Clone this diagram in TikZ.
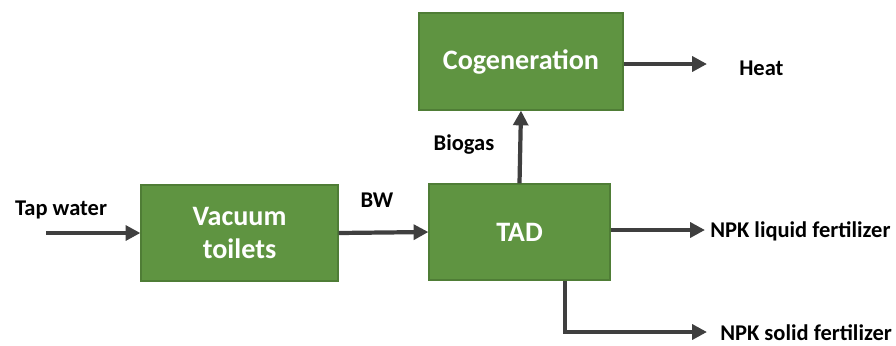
\documentclass[tikz,border=0pt]{standalone}
\usepackage{fontspec}
\setmainfont{Carlito}
\usetikzlibrary{arrows.meta}
\definecolor{boxgreen}{HTML}{5F9441}
\definecolor{boxedge}{HTML}{4F7D36}
\definecolor{flowgrey}{HTML}{3F3F3F}
\tikzset{
  unit/.style={draw=boxedge, line width=0.8pt, fill=boxgreen, text=white,
    font=\bfseries\fontsize{20}{23.5}\selectfont, align=center, inner sep=0pt},
  flow/.style={draw=flowgrey, line width=3pt,
    -{Triangle[length=10.5pt,width=10.5pt,fill=flowgrey]}},
  lbl/.style={font=\bfseries\fontsize{16}{19}\selectfont, inner sep=0pt}
}

\begin{document}
\begin{tikzpicture}[x=0.025cm,y=-0.025cm]
\useasboundingbox (0,0) rectangle (896,345);

% Process units
\node[unit, minimum width=4.925cm, minimum height=2.4cm] (vac) at (239.5,233) {Vacuum\\toilets};
\node[unit, minimum width=4.525cm, minimum height=2.4cm] (tad) at (519.5,232) {TAD};
\node[unit, minimum width=5.1cm, minimum height=2.425cm] (cog) at (521,61.5) {Cogeneration};

% Free ends
\coordinate (tap) at (46,233);
\coordinate (heat) at (707,64);
\coordinate (liquid) at (705,230);
\coordinate (solid) at (707,332);

% Flows
\draw[flow] (tap) -- (vac.west);
\draw[flow] (vac.east) -- (tad.west);
\draw[flow] (tad.north) -- (cog.south);
\draw[flow] (cog.east |- heat) -- (heat);
\draw[flow] (tad.east |- liquid) -- (liquid);
\draw[flow] ([xshift=1.1375cm]tad.south) |- (solid);

% Labels
\node[lbl] (taplbl) at (61,210) {Tap water};
\node[lbl] (bwlbl) at (377,200) {BW};
\node[lbl] (biolbl) at (464,145) {Biogas};
\node[lbl, anchor=west] (heatlbl) at (739,68) {Heat};
\node[lbl, anchor=west] (liqlbl) at (710,231) {NPK liquid fertilizer};
\node[lbl, anchor=west] (sollbl) at (720,333) {NPK solid fertilizer};
\end{tikzpicture}
\end{document}
